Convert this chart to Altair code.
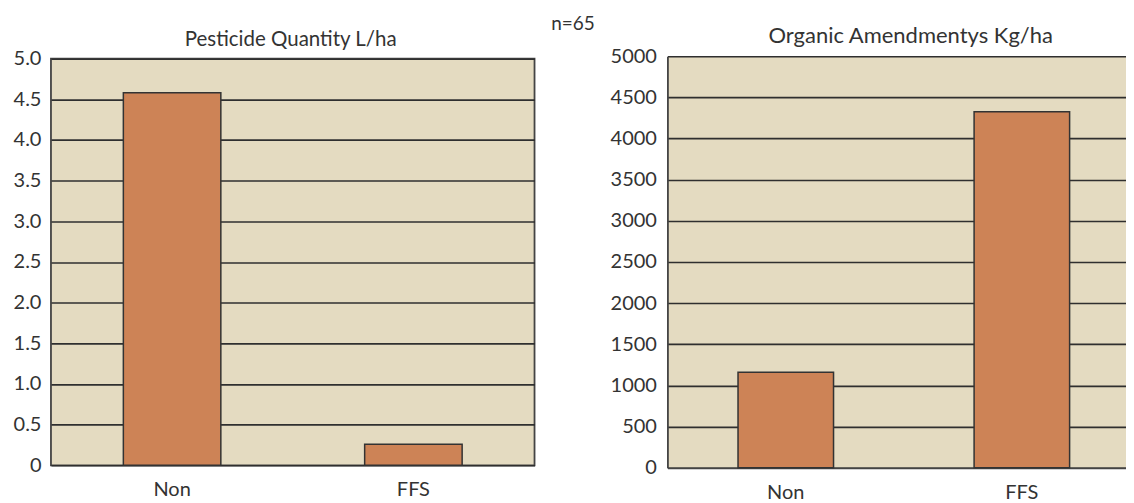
import altair as alt
import pandas as pd

groups = ["Non", "FFS"]
pesticide = [4.58, 0.26]
organic = [1160, 4325]
left_title = "Pesticide Quantity L/ha"
right_title = "Organic Amendmentys Kg/ha"
n_label = "n=65"
left_ticks = [0, 0.5, 1.0, 1.5, 2.0, 2.5, 3.0, 3.5, 4.0, 4.5, 5.0]
right_ticks = [0, 500, 1000, 1500, 2000, 2500, 3000, 3500, 4000, 4500, 5000]

FONT = "Lato"
TXT = "#333333"
BG = "#E4DBC1"
BAR = "#CD8356"
GRID = "#2f2f2f"

df_l = pd.DataFrame({"group": groups, "value": pesticide})
df_r = pd.DataFrame({"group": groups, "value": organic})

def title(t, size, dx):
    return alt.TitleParams(t, font=FONT, fontSize=size, fontWeight="normal",
                           color=TXT, anchor="middle", offset=-2, frame="group", dx=dx)

left = alt.Chart(df_l).mark_bar(color=BAR, stroke="#333333", strokeWidth=1.5).encode(
    x=alt.X("group:N", sort=groups,
            scale=alt.Scale(paddingInner=0.596, paddingOuter=0.3),
            axis=alt.Axis(title=None, labelAngle=0, ticks=False, domain=False,
                          labelPadding=14, labelFontSize=20, labelFont=FONT,
                          labelColor=TXT)),
    y=alt.Y("value:Q", scale=alt.Scale(domain=[0, 5]),
            axis=alt.Axis(title=None, values=left_ticks, ticks=False, domain=False,
                          labelExpr="datum.value == 0 ? '0' : format(datum.value, '.1f')",
                          labelPadding=10, labelFontSize=20, labelFont=FONT,
                          labelColor=TXT, grid=True, gridColor=GRID, gridWidth=1.6,
                          gridOpacity=1, minExtent=42, maxExtent=42)),
).properties(width=484, height=407, title=title(left_title, 20.5, -2),
             view=alt.ViewBackground(fill=BG, stroke="#444444", strokeWidth=1.8))

right = alt.Chart(df_r).mark_bar(color=BAR, stroke="#333333", strokeWidth=1.5).encode(
    x=alt.X("group:N", sort=groups,
            scale=alt.Scale(paddingInner=0.5954, paddingOuter=0.269, align=0.556),
            axis=alt.Axis(title=None, labelAngle=0, ticks=False, domain=True,
                          domainColor="#444444", domainWidth=1.8,
                          labelPadding=15, labelFontSize=20, labelFont=FONT,
                          labelColor=TXT)),
    y=alt.Y("value:Q", scale=alt.Scale(domain=[0, 5000]),
            axis=alt.Axis(title=None, values=right_ticks, ticks=False, domain=True,
                          domainColor="#444444", domainWidth=1.8, format="d",
                          labelPadding=11, labelFontSize=20, labelFont=FONT,
                          labelColor=TXT, grid=True, gridColor=GRID, gridWidth=1.6,
                          gridOpacity=1)),
).properties(width=459, height=412, title=title(right_title, 22, 14),
             view=alt.ViewBackground(fill=BG, strokeOpacity=0))

chart = alt.hconcat(left, right, spacing=133, bounds="flush", center=True).properties(
    padding={"left": 0, "top": 7, "right": 0, "bottom": 0},
    title=alt.TitleParams(n_label, font=FONT, fontSize=19, fontWeight="normal",
                          color=TXT, anchor="middle", offset=-9, dx=6)
).configure_view(fill=BG)

chart.save("out.html", embed_options={"renderer": "svg", "actions": False})
